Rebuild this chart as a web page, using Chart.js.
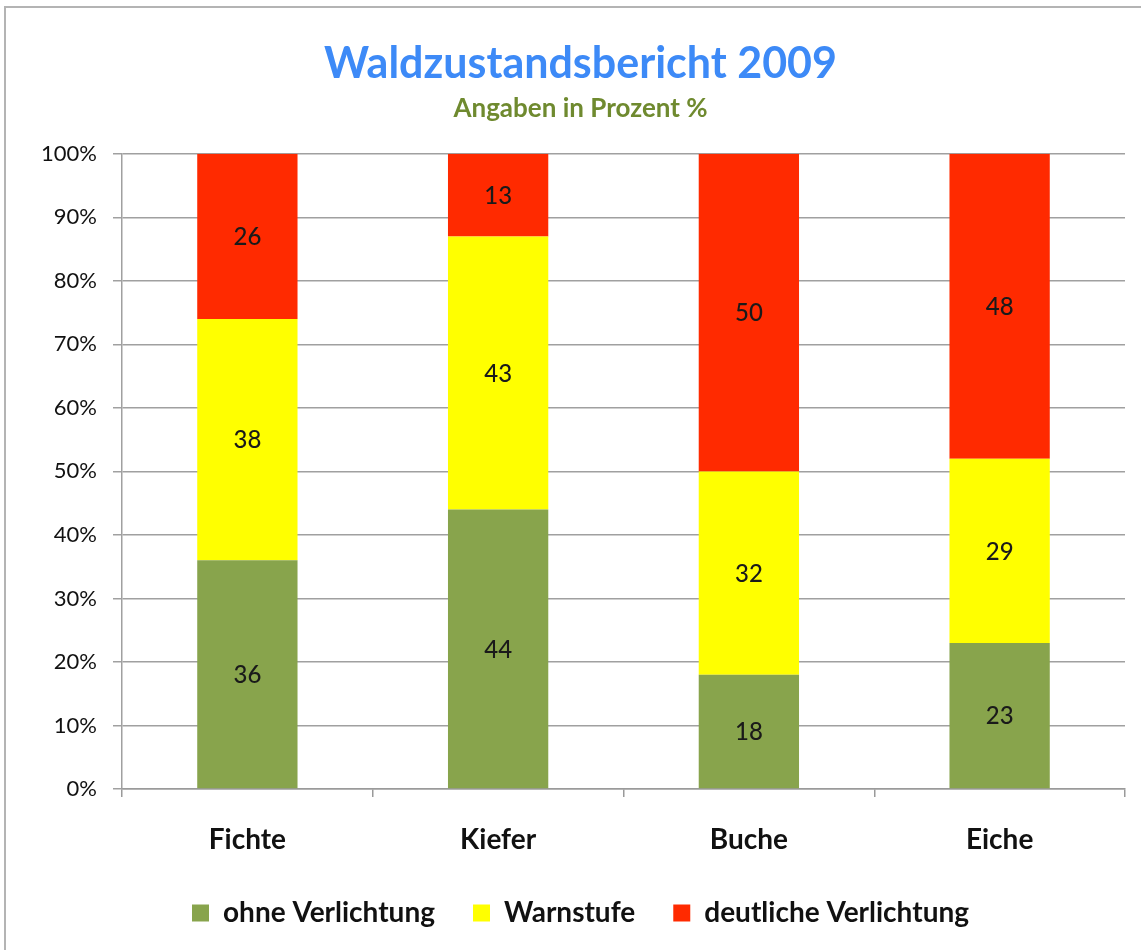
<!DOCTYPE html>
<html>
<head>
<meta charset="utf-8">
<script src="https://cdn.jsdelivr.net/npm/chart.js@4.4.0/dist/chart.umd.min.js"></script>
<style>
  html, body { margin: 0; padding: 0; background: #fff; }
  #wrap { position: relative; width: 1141px; height: 950px; overflow: hidden; }
  #frame { position: absolute; left: 4px; top: 6px; width: 1200px; height: 1000px;
           border-top: 2px solid #b4b4b4; border-left: 2px solid #b4b4b4; }
  #c { position: absolute; left: 0; top: 0; }
</style>
</head>
<body>
<div id="wrap">
  <div id="frame"></div>
  <canvas id="c" width="1141" height="950"></canvas>
</div>
<script>
const categories = ['Fichte', 'Kiefer', 'Buche', 'Eiche'];
const seriesNames = ['ohne Verlichtung', 'Warnstufe', 'deutliche Verlichtung'];
const ohneVerlichtung = [36, 44, 18, 23];
const warnstufe = [38, 43, 32, 29];
const deutlicheVerlichtung = [26, 13, 50, 48];
const yTicks = [0, 10, 20, 30, 40, 50, 60, 70, 80, 90, 100];
const titleText = 'Waldzustandsbericht 2009';
const subtitleText = 'Angaben in Prozent %';

const FONT = 'Lato, "Open Sans", sans-serif';
const colors = ['#88a44c', '#ffff00', '#ff2a00'];
const PAD_LEFT = 36;

const segmentLabels = {
  id: 'segmentLabels',
  afterDatasetsDraw(chart) {
    const ctx = chart.ctx;
    ctx.save();
    ctx.font = '500 24px ' + FONT;
    ctx.fillStyle = '#1a1a1a';
    ctx.textAlign = 'center';
    ctx.textBaseline = 'middle';
    chart.data.datasets.forEach((ds, di) => {
      const meta = chart.getDatasetMeta(di);
      meta.data.forEach((bar, i) => {
        const p = bar.getProps(['x', 'y', 'base'], true);
        ctx.fillText(String(ds.data[i]), p.x, (p.y + p.base) / 2 + 1);
      });
    });
    ctx.restore();
  }
};

new Chart(document.getElementById('c'), {
  type: 'bar',
  data: {
    labels: categories,
    datasets: [
      { label: seriesNames[0], data: ohneVerlichtung, backgroundColor: colors[0] },
      { label: seriesNames[1], data: warnstufe, backgroundColor: colors[1] },
      { label: seriesNames[2], data: deutlicheVerlichtung, backgroundColor: colors[2] }
    ]
  },
  options: {
    responsive: false,
    animation: false,
    devicePixelRatio: 1,
    layout: { padding: { left: PAD_LEFT, right: 16, top: 0, bottom: 13 } },
    datasets: { bar: { barPercentage: 0.4, categoryPercentage: 1.0 } },
    plugins: {
      title: {
        display: true, text: titleText, color: '#3d8af7',
        font: { family: FONT, size: 43, weight: 'bold' },
        padding: { top: 38, bottom: 3 }
      },
      subtitle: {
        display: true, text: subtitleText, color: '#6f8a2f',
        font: { family: FONT, size: 26, weight: 'bold' },
        padding: { top: 0, bottom: 30 }
      },
      legend: {
        position: 'bottom',
        labels: {
          boxWidth: 17, boxHeight: 17, padding: 38, color: '#111',
          font: { family: FONT, size: 28, weight: 'bold' }
        }
      },
      tooltip: { enabled: false }
    },
    scales: {
      x: {
        stacked: true,
        afterFit(scale) { scale.height = 72; },
        grid: { display: true, drawOnChartArea: false, drawTicks: true, tickLength: 8, color: '#9a9a9a', lineWidth: 1.5 },
        border: { display: true, color: '#9a9a9a', width: 1.5 },
        ticks: { color: '#111', padding: 26, font: { family: FONT, size: 28, weight: 'bold' } }
      },
      y: {
        stacked: true, min: 0, max: 100,
        afterFit(scale) { scale.width = 122 - PAD_LEFT; },
        afterBuildTicks(scale) { scale.ticks = yTicks.map(v => ({ value: v })); },
        grid: { color: '#a0a0a0', lineWidth: 1.5, tickLength: 9 },
        border: { display: true, color: '#a0a0a0', width: 1.5 },
        ticks: { color: '#111', padding: 16, font: { family: FONT, size: 22 }, callback: v => v + '%' }
      }
    }
  },
  plugins: [segmentLabels]
});
</script>
</body>
</html>
